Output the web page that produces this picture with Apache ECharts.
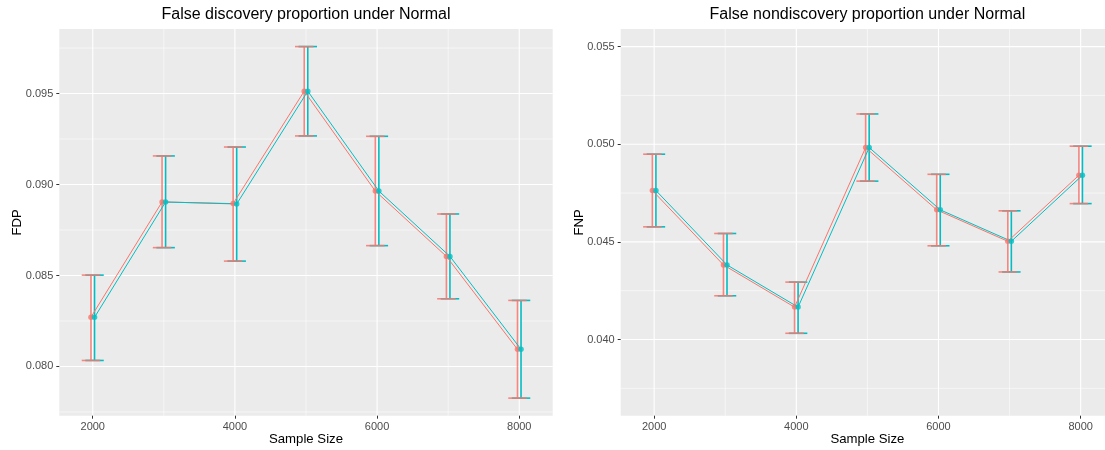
<!DOCTYPE html>
<html>
<head>
<meta charset="utf-8">
<script src="https://cdn.jsdelivr.net/npm/echarts@6/dist/echarts.min.js"></script>
<style>
  html, body { margin: 0; padding: 0; background: #ffffff; overflow: hidden; }
  /* the right-hand panel runs a little past the window edge */
  #chart { width: 1115px; height: 450px; }
</style>
</head>
<body>
<div id="chart"></div>
<script>
// Sample sizes on the x axis
const sampleSizes = [2000, 3000, 4000, 5000, 6000, 7000, 8000];

// False discovery proportion: mean and interval bounds, two groups
const fdpA     = [0.08271, 0.08904, 0.08895, 0.09513, 0.08964, 0.08605, 0.08094];
const fdpALow  = [0.08033, 0.08653, 0.08579, 0.09267, 0.08664, 0.08372, 0.07826];
const fdpAHigh = [0.08502, 0.09157, 0.09206, 0.09758, 0.09265, 0.08838, 0.08363];
const fdpB     = [0.08270, 0.08904, 0.08893, 0.09513, 0.08964, 0.08605, 0.08094];
const fdpBLow  = [0.08033, 0.08653, 0.08579, 0.09267, 0.08664, 0.08372, 0.07826];
const fdpBHigh = [0.08502, 0.09157, 0.09206, 0.09758, 0.09265, 0.08838, 0.08363];

// False nondiscovery proportion: mean and interval bounds, two groups
const fnpA     = [0.04763, 0.04382, 0.04166, 0.04983, 0.04664, 0.04503, 0.04841];
const fnpALow  = [0.04577, 0.04224, 0.04032, 0.04811, 0.04480, 0.04346, 0.04696];
const fnpAHigh = [0.04949, 0.04543, 0.04294, 0.05155, 0.04846, 0.04659, 0.04990];
const fnpB     = [0.04763, 0.04382, 0.04166, 0.04983, 0.04664, 0.04503, 0.04841];
const fnpBLow  = [0.04577, 0.04224, 0.04032, 0.04811, 0.04480, 0.04346, 0.04696];
const fnpBHigh = [0.04949, 0.04543, 0.04294, 0.05155, 0.04846, 0.04659, 0.04990];
const fnpLimits = [0.037, 0.055];

// Tick labels and grid breaks
const xTicks = [2000, 4000, 6000, 8000];
const xMinor = [3000, 5000, 7000];
const fdpTicks = [0.080, 0.085, 0.090, 0.095];
const fdpMinor = [0.0775, 0.0825, 0.0875, 0.0925, 0.0975];
const fnpTicks = [0.040, 0.045, 0.050, 0.055];
const fnpMinor = [0.0375, 0.0425, 0.0475, 0.0525];

const titles = ['False discovery proportion under Normal', 'False nondiscovery proportion under Normal'];
const yNames = ['FDP', 'FNP'];
const xName = 'Sample Size';

const RED = '#F8766D';
const CYAN = '#00BFC4';
const FONT = '"Liberation Sans", Arial, Helvetica, sans-serif';

const dodge = 25;     // horizontal offset of each group, in sample-size units
const capHalf = 130;  // half width of the error bar caps, in sample-size units

function expand(lo, hi) {
  const pad = (hi - lo) * 0.05;
  return [lo - pad, hi + pad];
}
const xReach = dodge + capHalf;
const xExtent = expand(sampleSizes[0] - xReach, sampleSizes[sampleSizes.length - 1] + xReach);
const fdpExtent = expand(
  Math.min(...fdpALow, ...fdpBLow),
  Math.max(...fdpAHigh, ...fdpBHigh)
);
const fnpExtent = expand(fnpLimits[0], fnpLimits[1]);

const chart = echarts.init(document.getElementById('chart'), null, { renderer: 'canvas' });

function gridSeries(gridIdx, yMajor, yMinor) {
  return {
    type: 'custom',
    xAxisIndex: gridIdx,
    yAxisIndex: gridIdx,
    silent: true,
    z: 0,
    data: [[sampleSizes[0], yMajor[0]]],
    renderItem: function (params, api) {
      const cs = params.coordSys;
      const children = [];
      const add = function (x1, y1, x2, y2, w) {
        children.push({
          type: 'line',
          shape: { x1: x1, y1: y1, x2: x2, y2: y2 },
          style: { stroke: '#FFFFFF', lineWidth: w }
        });
      };
      const y0 = api.value(1);
      yMinor.forEach(function (v) {
        const p = api.coord([xTicks[0], v]);
        add(cs.x, p[1], cs.x + cs.width, p[1], 0.55);
      });
      xMinor.forEach(function (v) {
        const p = api.coord([v, y0]);
        add(p[0], cs.y, p[0], cs.y + cs.height, 0.55);
      });
      yMajor.forEach(function (v) {
        const p = api.coord([xTicks[0], v]);
        add(cs.x, p[1], cs.x + cs.width, p[1], 1.1);
      });
      xTicks.forEach(function (v) {
        const p = api.coord([v, y0]);
        add(p[0], cs.y, p[0], cs.y + cs.height, 1.1);
      });
      return { type: 'group', children: children };
    }
  };
}

function errorBarSeries(gridIdx, lows, highs, offset, color, opacity) {
  return {
    type: 'custom',
    xAxisIndex: gridIdx,
    yAxisIndex: gridIdx,
    z: 1,
    silent: true,
    data: sampleSizes.map(function (s, i) { return [s + offset, lows[i], highs[i]]; }),
    encode: { x: 0, y: [1, 2] },
    renderItem: function (params, api) {
      const x = api.value(0);
      const lo = api.value(1);
      const hi = api.value(2);
      const pLo = api.coord([x, lo]);
      const pHi = api.coord([x, hi]);
      const l = api.coord([x - capHalf, hi])[0];
      const r = api.coord([x + capHalf, hi])[0];
      const style = { stroke: color, lineWidth: 1.6, opacity: opacity };
      return {
        type: 'group',
        children: [
          { type: 'line', shape: { x1: pLo[0], y1: pLo[1], x2: pHi[0], y2: pHi[1] }, style: style },
          { type: 'line', shape: { x1: l, y1: pHi[1], x2: r, y2: pHi[1] }, style: style },
          { type: 'line', shape: { x1: l, y1: pLo[1], x2: r, y2: pLo[1] }, style: style }
        ]
      };
    }
  };
}

function lineSeries(gridIdx, values, offset, color) {
  return {
    type: 'line',
    xAxisIndex: gridIdx,
    yAxisIndex: gridIdx,
    z: 2,
    silent: true,
    showSymbol: false,
    symbol: 'none',
    data: sampleSizes.map(function (s, i) { return [s + offset, values[i]]; }),
    lineStyle: { color: color, width: 1 },
    animation: false
  };
}

function pointSeries(gridIdx, values, offset, color) {
  return {
    type: 'scatter',
    xAxisIndex: gridIdx,
    yAxisIndex: gridIdx,
    z: 3,
    silent: true,
    symbol: 'circle',
    symbolSize: 5.5,
    data: sampleSizes.map(function (s, i) { return [s + offset, values[i]]; }),
    itemStyle: { color: color }
  };
}

function xAxis(gridIdx) {
  return {
    type: 'value',
    gridIndex: gridIdx,
    min: xExtent[0],
    max: xExtent[1],
    name: xName,
    nameLocation: 'middle',
    nameGap: 17,
    nameMoveOverlap: false,
    nameTextStyle: { color: '#000000', fontSize: 13.2, fontFamily: FONT },
    axisLine: { show: false },
    splitLine: { show: false },
    axisTick: { show: true, customValues: xTicks, length: 3, lineStyle: { color: '#333333', width: 1 } },
    axisLabel: {
      customValues: xTicks, color: '#4D4D4D', fontSize: 11, fontFamily: FONT, margin: 6,
      formatter: function (v) { return String(Math.round(v)); }
    }
  };
}

function yAxis(gridIdx, extent, ticks) {
  return {
    type: 'value',
    gridIndex: gridIdx,
    min: extent[0],
    max: extent[1],
    name: yNames[gridIdx],
    nameLocation: 'middle',
    nameGap: 35,
    nameMoveOverlap: false,
    nameTextStyle: { color: '#000000', fontSize: 13.2, fontFamily: FONT },
    axisLine: { show: false },
    splitLine: { show: false },
    axisTick: { show: true, customValues: ticks, length: 3, lineStyle: { color: '#333333', width: 1 } },
    axisLabel: {
      customValues: ticks,
      color: '#4D4D4D', fontSize: 11, fontFamily: FONT, margin: 6,
      formatter: function (v) { return v.toFixed(3); }
    }
  };
}

const gridBoxes = [
  { left: 59.3, top: 29, width: 493.4, height: 386.7 },
  { left: 620.7, top: 29, width: 493.4, height: 386.7 }
];

const option = {
  animation: false,
  backgroundColor: '#FFFFFF',
  graphic: titles.map(function (t, i) {
    return {
      type: 'text',
      x: gridBoxes[i].left + gridBoxes[i].width / 2,
      y: 14.5,
      style: {
        text: t, align: 'center', verticalAlign: 'middle',
        fill: '#000000', font: '16px ' + FONT
      }
    };
  }),
  grid: gridBoxes.map(function (b) {
    return Object.assign({
      show: true, backgroundColor: '#EBEBEB', borderWidth: 0,
      containLabel: false, outerBoundsMode: 'none'
    }, b);
  }),
  xAxis: [xAxis(0), xAxis(1)],
  yAxis: [yAxis(0, fdpExtent, fdpTicks), yAxis(1, fnpExtent, fnpTicks)],
  series: [
    gridSeries(0, fdpTicks, fdpMinor),
    gridSeries(1, fnpTicks, fnpMinor),
    errorBarSeries(0, fdpBLow, fdpBHigh, dodge, CYAN, 1),
    errorBarSeries(0, fdpALow, fdpAHigh, -dodge, RED, 0.85),
    errorBarSeries(1, fnpBLow, fnpBHigh, dodge, CYAN, 1),
    errorBarSeries(1, fnpALow, fnpAHigh, -dodge, RED, 0.85),
    lineSeries(0, fdpA, -dodge, RED),
    lineSeries(0, fdpB, dodge, CYAN),
    lineSeries(1, fnpA, -dodge, RED),
    lineSeries(1, fnpB, dodge, CYAN),
    pointSeries(0, fdpA, -dodge, RED),
    pointSeries(0, fdpB, dodge, CYAN),
    pointSeries(1, fnpA, -dodge, RED),
    pointSeries(1, fnpB, dodge, CYAN)
  ]
};

chart.setOption(option);
</script>
</body>
</html>
